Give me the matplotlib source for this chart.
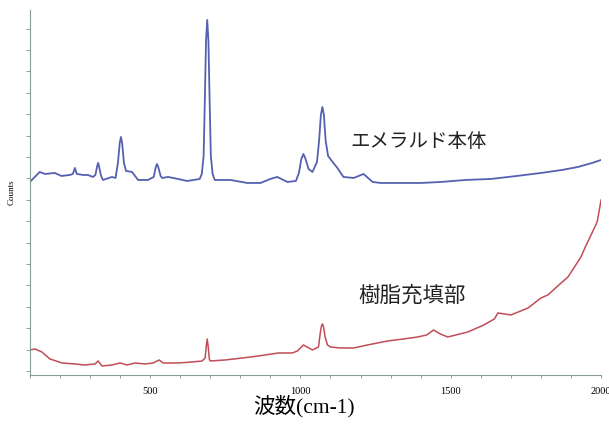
import matplotlib.pyplot as plt
from matplotlib.ticker import MultipleLocator

# Raman spectra: emerald body vs. resin-filled part
emerald_wn = [100, 133, 150, 183, 205, 233, 243, 250, 256, 277, 293, 310, 318, 324, 327, 330,
              336, 343, 373, 385, 393, 399, 403, 407, 413, 420, 440, 460, 493, 512, 519,
              523, 527, 535, 540, 560, 593, 623, 645, 665, 672, 678, 682, 686, 690, 694,
              698, 702, 708, 715, 767, 823, 867, 900, 923, 957, 985, 995, 1003, 1010,
              1017, 1027, 1040, 1055, 1062, 1068, 1073, 1078, 1084, 1092, 1107, 1123,
              1143, 1177, 1210, 1240, 1267, 1300, 1400, 1467, 1550, 1633, 1720, 1800,
              1870, 1923, 1970, 2000]
emerald_counts = [1890, 1990, 1970, 1980, 1950, 1960, 1970, 2030, 1970, 1960, 1960, 1940,
                  1960, 2050, 2080, 2050, 1960, 1910, 1940, 1930, 2080, 2280, 2340, 2280,
                  2080, 2000, 1990, 1910, 1910, 1940, 2040, 2070, 2040, 1950, 1930, 1940,
                  1920, 1900, 1910, 1920, 1970, 2150, 2700, 3300, 3510, 3300, 2700, 2150,
                  1970, 1910, 1910, 1880, 1880, 1920, 1940, 1890, 1900, 1980, 2120, 2170,
                  2120, 2020, 1990, 2090, 2300, 2560, 2640, 2560, 2300, 2150, 2090, 2030,
                  1940, 1930, 1970, 1890, 1880, 1880, 1880, 1890, 1910, 1920, 1950, 1980,
                  2010, 2040, 2080, 2110]

resin_wn = [100, 117, 140, 167, 207, 250, 283, 317, 327, 340, 373, 400, 423, 450, 483,
            510, 530, 543, 593, 640, 673, 683, 687, 690, 693, 697, 700, 750, 807, 860,
            927, 973, 990, 1010, 1040, 1060, 1066, 1070, 1073, 1077, 1082, 1090, 1100,
            1133, 1177, 1223, 1290, 1343, 1390, 1420, 1443, 1465, 1490, 1557, 1610, 1645,
            1657, 1700, 1757, 1800, 1823, 1867, 1890, 1933, 1943, 1987, 2000]
resin_counts = [210, 220, 190, 120, 80, 70, 60, 70, 100, 50, 60, 80, 60, 80, 70,
                80, 110, 80, 80, 90, 100, 130, 250, 320, 250, 120, 100, 110, 130, 150,
                180, 180, 200, 260, 210, 240, 380, 450, 470, 440, 340, 260, 240,
                230, 230, 260, 300, 320, 340, 360, 410, 370, 340, 390, 460, 520,
                580, 560, 630, 730, 760, 880, 940, 1140, 1210, 1490, 1710]

plt.rcParams["font.family"] = ["Liberation Serif", "Noto Sans CJK JP"]

fig = plt.figure(figsize=(6.09, 4.33), dpi=100)
ax = fig.add_axes([0.049, 0.134, 0.938, 0.843])

ax.plot(emerald_wn, emerald_counts, color="#5560b0", lw=1.3)
ax.plot(resin_wn, resin_counts, color="#c24c58", lw=1.1)

ax.set_xlim(100, 2000)
ax.set_ylim(-40, 3610)
ax.xaxis.set_major_locator(MultipleLocator(500))
ax.xaxis.set_minor_locator(MultipleLocator(100))
ax.yaxis.set_major_locator(MultipleLocator(214))
ax.set_yticklabels([])
ax.tick_params(axis="y", which="both", length=3, width=0.6, color="#888888")
ax.tick_params(axis="x", which="both", length=2.5, width=0.6, color="#888888",
               labelsize=7.5, pad=6)

for side in ("top", "right"):
    ax.spines[side].set_visible(False)
for side in ("left", "bottom"):
    ax.spines[side].set_color("#8a9a9a")
    ax.spines[side].set_linewidth(0.8)

ax.set_ylabel("Counts", fontsize=6.5, labelpad=4)
ax.set_xlabel("波数(cm-1)", fontsize=15.5)
ax.xaxis.set_label_coords(0.48, -0.055)

ax.text(1165, 2290, "エメラルド本体", fontsize=14, family="Noto Sans CJK JP",
        ha="left", va="center", color="#222222")
ax.text(1193, 750, "樹脂充填部", fontsize=15.5, family="Noto Sans CJK JP",
        ha="left", va="center", color="#222222")

fig.savefig("out.png", dpi=100)
